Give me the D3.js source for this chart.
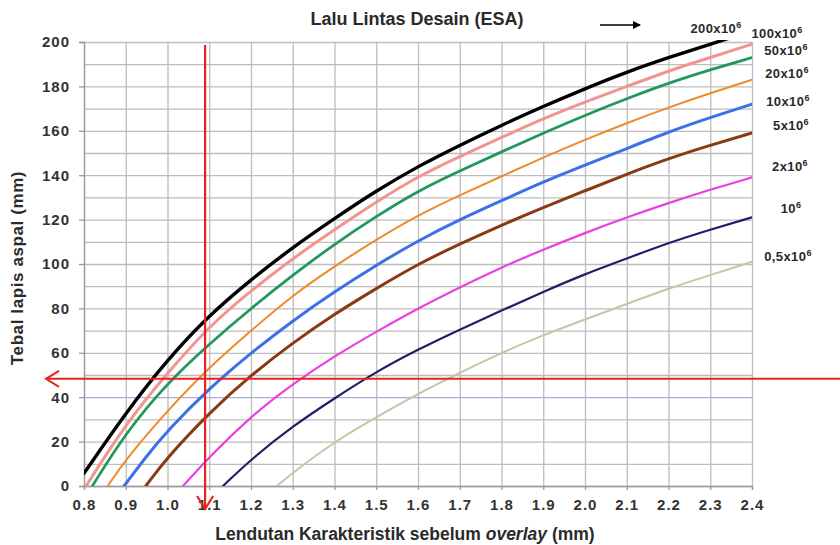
<!DOCTYPE html>
<html>
<head>
<meta charset="utf-8">
<title>Lalu Lintas Desain (ESA)</title>
<script src="https://cdn.jsdelivr.net/npm/d3@7"></script>
<style>
  body { margin: 0; background: #fff; }
  svg text { font-family: "Liberation Sans", Arial, sans-serif; fill: #2a2a2a; }
  .grid line { stroke: #bdbdbd; stroke-width: 1.3; }
  .grid path { display: none; }
  .axis path, .axis line { stroke: #9a9a9a; stroke-width: 1.3; }
  .axis text { font-size: 15px; font-weight: bold; fill: #333; letter-spacing: 1px; }
</style>
</head>
<body>
<svg id="chart" width="840" height="545"></svg>
<script>
// lendutan (mm) -> tebal lapis aspal (mm), one array per ESA level
const esa200 = [[0.8,5.7],[0.9,33],[1.0,57],[1.1,77],[1.2,93],[1.3,107.5],[1.4,120.5],[1.5,133],[1.6,144],[1.7,153.5],[1.8,162.5],[1.9,171],[2.0,179],[2.1,186.5],[2.2,193],[2.3,199],[2.35,202]];
const esa100 = [[0.805,0],[0.9,28],[1.0,51],[1.1,72],[1.2,88],[1.3,102.5],[1.4,115.5],[1.5,128],[1.6,139.5],[1.7,148.5],[1.8,157],[1.9,165.5],[2.0,173],[2.1,180],[2.2,187],[2.3,193],[2.4,199]];
const esa50 = [[0.82,0],[0.9,24],[1.0,46.5],[1.1,64],[1.2,80],[1.3,95],[1.4,109],[1.5,121.5],[1.6,133],[1.7,142],[1.8,150.5],[1.9,159],[2.0,167],[2.1,174.5],[2.2,181.5],[2.3,187.5],[2.4,193]];
const esa20 = [[0.857,0],[0.9,12],[1.0,34],[1.1,53.5],[1.2,70],[1.3,86],[1.4,99],[1.5,111],[1.6,122],[1.7,131],[1.8,139.5],[1.9,148],[2.0,156],[2.1,163.5],[2.2,170.5],[2.3,177],[2.4,183]];
const esa10 = [[0.896,0],[0.95,13.5],[1.0,25],[1.1,44],[1.2,60],[1.3,74.5],[1.4,87.5],[1.5,99.5],[1.6,110.5],[1.7,120],[1.8,128.5],[1.9,137],[2.0,144.5],[2.1,152],[2.2,159.5],[2.3,166],[2.4,172]];
const esa5 = [[0.948,0],[1.0,13],[1.1,33],[1.2,50],[1.3,64.5],[1.4,77.5],[1.5,89],[1.6,100],[1.7,109],[1.8,117.5],[1.9,125.5],[2.0,133],[2.1,140.5],[2.2,147.5],[2.3,153.5],[2.4,159]];
const esa2 = [[1.037,0],[1.1,13],[1.2,31.5],[1.3,46],[1.4,58.5],[1.5,69.5],[1.6,80],[1.7,89.5],[1.8,98.5],[1.9,106.5],[2.0,114],[2.1,121],[2.2,127.5],[2.3,133.5],[2.4,139]];
const esa1 = [[1.133,0],[1.2,12],[1.3,27],[1.4,39.5],[1.5,51.5],[1.6,61.5],[1.7,70.5],[1.8,79],[1.9,87.5],[2.0,95.5],[2.1,102.5],[2.2,109.5],[2.3,115.5],[2.4,121]];
const esa05 = [[1.262,0],[1.3,6],[1.4,20],[1.5,31],[1.6,41.5],[1.7,51],[1.8,60],[1.9,68],[2.0,75],[2.1,82],[2.2,89],[2.3,95],[2.4,101]];

const seriesNames = ["200x10", "100x10", "50x10", "20x10", "10x10", "5x10", "2x10", "10", "0,5x10"];
const seriesData = [esa200, esa100, esa50, esa20, esa10, esa5, esa2, esa1, esa05];
const seriesColors = ["#000000", "#f29590", "#22985e", "#ef8a2c", "#3d6fe8", "#8a3a12", "#e940e2", "#1f2166", "#bccba6"];
const seriesWidths = [3.4, 3, 2.8, 2, 3, 3, 2.2, 2.2, 2];

const xTicks = [0.8,0.9,1.0,1.1,1.2,1.3,1.4,1.5,1.6,1.7,1.8,1.9,2.0,2.1,2.2,2.3,2.4];
const yTicks = [0,20,40,60,80,100,120,140,160,180,200];
const yGrid = d3.range(0, 201, 10);

// example reading drawn with red arrows
const readDeflection = 1.09;
const readThickness = 48.3;

const svg = d3.select('#chart');
const margin = { left: 84, right: 88, top: 42, bottom: 59 };
const W = 840, H = 545;
const x = d3.scaleLinear().domain([0.8, 2.4]).range([margin.left, W - margin.right]);
const y = d3.scaleLinear().domain([0, 200]).range([H - margin.bottom, margin.top]);
const plotW = x.range()[1] - x.range()[0];
const plotH = y.range()[0] - y.range()[1];

svg.append('defs').append('clipPath').attr('id', 'plotclip')
  .append('rect').attr('x', x(0.8)).attr('y', y(200) - 2).attr('width', plotW).attr('height', plotH + 2);

// grid
svg.append('g').attr('class', 'grid')
  .attr('transform', `translate(0,${y(0)})`)
  .call(d3.axisBottom(x).tickValues(xTicks).tickSize(-plotH).tickFormat(''));
svg.append('g').attr('class', 'grid')
  .attr('transform', `translate(${x(0.8)},0)`)
  .call(d3.axisLeft(y).tickValues(yGrid).tickSize(-plotW).tickFormat(''))
  .selectAll('line').filter(d => d === 40).style('stroke', '#a9addb');

// axes
svg.append('g').attr('class', 'axis')
  .attr('transform', `translate(0,${y(0)})`)
  .call(d3.axisBottom(x).tickValues(xTicks).tickSize(4).tickPadding(9).tickFormat(d3.format('.1f')));
svg.append('g').attr('class', 'axis')
  .attr('transform', `translate(${x(0.8)},0)`)
  .call(d3.axisLeft(y).tickValues(yTicks).tickSize(5).tickPadding(9));

// curves
const line = d3.line().x(d => x(d[0])).y(d => y(d[1])).curve(d3.curveBasis);
svg.append('g').attr('clip-path', 'url(#plotclip)')
  .selectAll('path').data(seriesData).join('path')
  .attr('d', line)
  .attr('fill', 'none')
  .attr('stroke', (d, i) => seriesColors[i])
  .attr('stroke-width', (d, i) => seriesWidths[i])
  .attr('stroke-linecap', 'round');

// curve labels
const labelPos = [[716, 33], [777, 38], [786, 55], [787, 78], [788, 106], [791, 130], [790, 171], [791, 213], [788, 261]];
const labels = svg.append('g').selectAll('text').data(seriesNames).join('text')
  .attr('x', (d, i) => labelPos[i][0])
  .attr('y', (d, i) => labelPos[i][1])
  .attr('text-anchor', 'middle')
  .attr('font-size', 13)
  .attr('font-weight', 'bold')
  .attr('letter-spacing', 0.4);
labels.append('tspan').text(d => d);
labels.append('tspan').attr('dy', -5).attr('font-size', 9).text('6');

// red reading lines
const red = '#e8231f';
const vx = x(readDeflection), hy = y(readThickness);
svg.append('line').attr('x1', vx).attr('x2', vx).attr('y1', 45).attr('y2', 509)
  .attr('stroke', red).attr('stroke-width', 2.2);
svg.append('path').attr('d', `M${vx - 8},${496} L${vx},${509} L${vx + 8},${496}`)
  .attr('fill', 'none').attr('stroke', red).attr('stroke-width', 2.2);
svg.append('line').attr('x1', 840).attr('x2', 46).attr('y1', hy).attr('y2', hy)
  .attr('stroke', red).attr('stroke-width', 2);
svg.append('path').attr('d', `M${59},${hy - 8} L${46},${hy} L${59},${hy + 8}`)
  .attr('fill', 'none').attr('stroke', red).attr('stroke-width', 2);

// title + arrow
svg.append('text').attr('x', 417).attr('y', 25).attr('text-anchor', 'middle')
  .attr('font-size', 18).attr('font-weight', 'bold').attr('fill', '#333')
  .text('Lalu Lintas Desain (ESA)');
svg.append('line').attr('x1', 600).attr('x2', 640).attr('y1', 25).attr('y2', 25)
  .attr('stroke', '#000').attr('stroke-width', 1.6);
svg.append('path').attr('d', 'M633,21 L641,25 L633,29 Z').attr('fill', '#000');

// axis titles
svg.append('text').attr('transform', `translate(23,${(y(0) + y(200)) / 2 + 4}) rotate(-90)`)
  .attr('text-anchor', 'middle').attr('font-size', 17).attr('font-weight', 'bold')
  .attr('letter-spacing', 0.6)
  .text('Tebal lapis aspal (mm)');
const xt = svg.append('text').attr('x', 405).attr('y', 540).attr('text-anchor', 'middle')
  .attr('font-size', 17.5).attr('font-weight', 'bold');
xt.append('tspan').text('Lendutan Karakteristik sebelum ');
xt.append('tspan').attr('font-style', 'italic').text('overlay');
xt.append('tspan').text(' (mm)');
</script>
</body>
</html>
